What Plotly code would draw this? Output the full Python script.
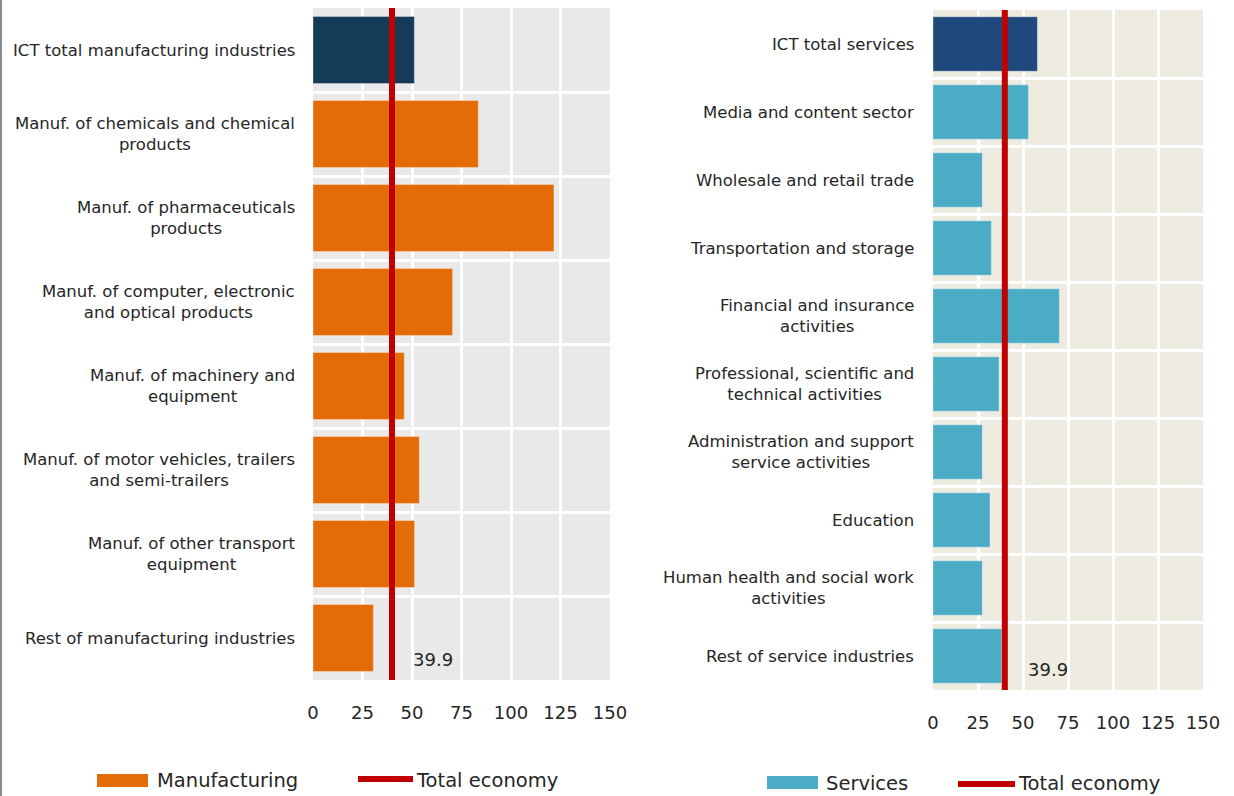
import plotly.graph_objects as go

# ---------------- data ----------------
manuf_categories = [
    "ICT total manufacturing industries",
    "Manuf. of chemicals and chemical<br>products",
    "Manuf. of pharmaceuticals<br>products",
    "Manuf. of computer, electronic<br>and optical products",
    "Manuf. of machinery and<br>equipment",
    "Manuf. of motor vehicles, trailers<br>and semi-trailers",
    "Manuf. of other transport<br>equipment",
    "Rest of manufacturing industries",
]
manuf_values = [51.2, 83.5, 121.7, 70.5, 46.1, 53.7, 51.3, 30.5]

serv_categories = [
    "ICT total services",
    "Media and content sector",
    "Wholesale and retail trade",
    "Transportation and storage",
    "Financial and insurance<br>activities",
    "Professional, scientific and<br>technical activities",
    "Administration and support<br>service activities",
    "Education",
    "Human health and social work<br>activities",
    "Rest of service industries",
]
serv_values = [58.0, 53.0, 27.4, 32.4, 70.2, 36.7, 27.4, 31.7, 27.4, 38.2]

total_economy = 39.9
x_ticks = [0, 25, 50, 75, 100, 125, 150]

# ---------------- style ----------------
W, H = 1234, 796
FONT = "DejaVu Sans"
TXT = "#262626"
RED = "#C00000"
ORANGE = "#E36C09"
NAVY = "#143B57"
LBLUE = "#4BACC6"
DBLUE = "#1F497D"
BG_L = "#E9E9E9"
BG_R = "#EEECE1"

def px_x(p):
    return p / W

def px_y(p):
    return 1 - p / H

fig = go.Figure()

panels = [
    dict(cats=manuf_categories, vals=manuf_values, xa="x", ya="y",
         c0=NAVY, c1=ORANGE, x0=313, x1=610, y0=8, y1=680, bg=BG_L,
         lab_right=297, lab_y=7.25, lab_shift=19),
    dict(cats=serv_categories, vals=serv_values, xa="x2", ya="y2",
         c0=DBLUE, c1=LBLUE, x0=933, x1=1203, y0=10, y1=690, bg=BG_R,
         lab_right=916, lab_y=9.2, lab_shift=21),
]

shapes = []
annotations = []

for k, p in enumerate(panels):
    n = len(p["cats"])
    pos = list(range(n))
    colors = [p["c0"]] + [p["c1"]] * (n - 1)
    fig.add_trace(go.Bar(
        x=p["vals"], y=pos, orientation="h", width=0.8,
        marker=dict(color=colors, line=dict(color="rgba(255,255,255,0.35)", width=1)),
        xaxis=p["xa"], yaxis=p["ya"], showlegend=False, hoverinfo="x",
    ))
    fig.add_trace(go.Scatter(
        x=[total_economy, total_economy], y=[-0.5, n - 0.5], mode="lines",
        line=dict(color=RED, width=6), xaxis=p["xa"], yaxis=p["ya"],
        showlegend=False, hoverinfo="skip",
    ))
    xname = "xaxis" if k == 0 else "xaxis2"
    yname = "yaxis" if k == 0 else "yaxis2"
    fig.update_layout(**{
        xname: dict(
            domain=[px_x(p["x0"]), px_x(p["x1"])], range=[0, 150],
            tickvals=x_ticks, showgrid=True, gridcolor="white", gridwidth=3,
            zeroline=False, showline=False, ticks="", ticklabelstandoff=20,
            tickfont=dict(family=FONT, size=18, color=TXT),
            anchor=p["ya"], automargin=False,
        ),
        yname: dict(
            domain=[px_y(p["y1"]), px_y(p["y0"])], range=[n - 0.5, -0.5],
            tickvals=pos, showticklabels=False, showgrid=False, zeroline=False,
            showline=False, ticks="", automargin=False,
            minor=dict(tickvals=[i - 0.5 for i in range(n + 1)], showgrid=True,
                       gridcolor="white", gridwidth=3, ticks=""),
            anchor=p["xa"],
        ),
    })
    # plot background
    shapes.append(dict(type="rect", xref=p["xa"] + " domain", yref=p["ya"] + " domain",
                       x0=0, x1=1, y0=0, y1=1, fillcolor=p["bg"], line=dict(width=0),
                       layer="below"))
    # category labels
    for i, c in enumerate(p["cats"]):
        annotations.append(dict(
            text=c, xref="paper", yref=p["ya"], x=px_x(p["lab_right"]), y=i,
            xanchor="right", yanchor="middle", align="center", showarrow=False,
            font=dict(family=FONT, size=16.5, color=TXT),
        ))
    # value label for total economy line
    annotations.append(dict(
        text=f"{total_economy}", xref=p["xa"], yref=p["ya"], x=total_economy,
        y=p["lab_y"], xanchor="left", yanchor="middle", xshift=p["lab_shift"],
        showarrow=False, font=dict(family=FONT, size=18, color=TXT),
    ))

# ---------------- manual legends ----------------
legends = [
    dict(sw=(97, 148, 774, 787), swc=ORANGE, name="Manufacturing", tx=155,
         ln=(358, 413, 779), lt=414, ty=780),
    dict(sw=(767, 818, 776, 789), swc=LBLUE, name="Services", tx=824,
         ln=(958, 1015, 784), lt=1016, ty=783),
]
for lg in legends:
    sx0, sx1, sy0, sy1 = lg["sw"]
    shapes.append(dict(type="rect", xref="paper", yref="paper",
                       x0=px_x(sx0), x1=px_x(sx1), y0=px_y(sy1), y1=px_y(sy0),
                       fillcolor=lg["swc"], line=dict(width=0)))
    lx0, lx1, ly = lg["ln"]
    shapes.append(dict(type="line", xref="paper", yref="paper",
                       x0=px_x(lx0), x1=px_x(lx1), y0=px_y(ly), y1=px_y(ly),
                       line=dict(color=RED, width=6)))
    annotations.append(dict(text=lg["name"], xref="paper", yref="paper",
                            x=px_x(lg["tx"]), y=px_y(lg["ty"]), xanchor="left",
                            yanchor="middle", showarrow=False,
                            font=dict(family=FONT, size=19.5, color=TXT)))
    annotations.append(dict(text="Total economy", xref="paper", yref="paper",
                            x=px_x(lg["lt"]), y=px_y(lg["ty"]), xanchor="left",
                            yanchor="middle", showarrow=False,
                            font=dict(family=FONT, size=19.5, color=TXT)))

# left page border
shapes.append(dict(type="line", xref="paper", yref="paper", x0=0.0008, x1=0.0008,
                   y0=0, y1=1, line=dict(color="#8C8C8C", width=2)))

fig.update_layout(
    width=W, height=H, margin=dict(l=0, r=0, t=0, b=0, pad=0),
    paper_bgcolor="white", plot_bgcolor="rgba(0,0,0,0)",
    bargap=0.2, shapes=shapes, annotations=annotations,
    font=dict(family=FONT, color=TXT), showlegend=False,
)

fig.write_html(
    "out.html",
    config={"displayModeBar": False},
    post_script="document.body.style.margin='0';document.body.style.overflow='hidden';",
)
